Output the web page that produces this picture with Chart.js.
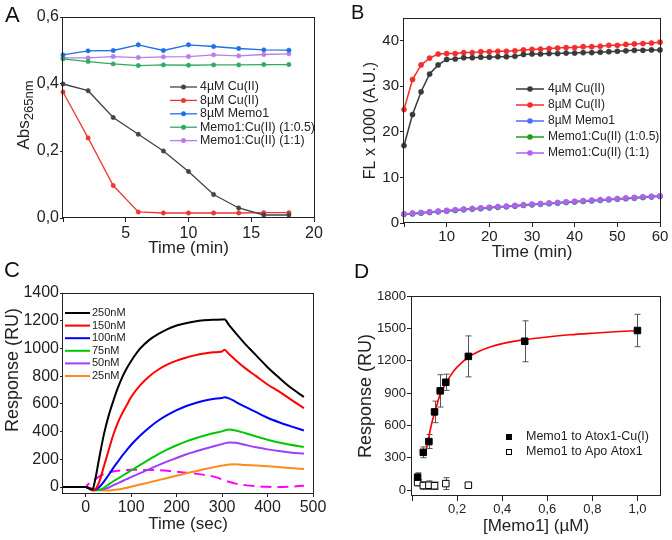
<!DOCTYPE html>
<html>
<head>
<meta charset="utf-8">
<script src="https://cdn.jsdelivr.net/npm/chart.js@4.4.1/dist/chart.umd.min.js"></script>
<style>
  body { margin: 0; background: #fff; }
  #wrap { position: relative; width: 672px; height: 540px; font-family: "Liberation Sans", Arial, sans-serif; color: #111; }
  canvas { position: absolute; }
  .letter { position: absolute; line-height: 1; }
  .vtitle { position: absolute; transform: translate(-50%, -50%) rotate(-90deg); white-space: nowrap; color: #222; }
  #absTitle { left: 25px; top: 115px; font-size: 17px; }
  #absTitle sub { font-size: 13px; }
  #respTitleC { left: 12px; top: 370px; font-size: 18px; }
</style>
</head>
<body>
<div id="wrap">
  <canvas id="chartA" width="336" height="270" style="left:0;top:0"></canvas>
  <canvas id="chartB" width="336" height="270" style="left:336px;top:0"></canvas>
  <canvas id="chartC" width="336" height="270" style="left:0;top:270px"></canvas>
  <canvas id="chartD" width="336" height="270" style="left:336px;top:270px"></canvas>
  <div class="letter" style="left:5px;top:4px;font-size:22px">A</div>
  <div class="letter" style="left:351px;top:2px;font-size:20px">B</div>
  <div class="letter" style="left:4px;top:259px;font-size:22px">C</div>
  <div class="letter" style="left:354px;top:260px;font-size:21px">D</div>
  <div class="vtitle" id="absTitle">Abs<sub>265nm</sub></div>
  <div class="vtitle" id="respTitleC">Response (RU)</div>
</div>
<script>
// ---- panel A: absorbance vs time ----
const timeA = [0, 2, 4, 6, 8, 10, 12, 14, 16, 18];
const cu4A  = [0.400, 0.380, 0.300, 0.250, 0.200, 0.139, 0.070, 0.030, 0.009, 0.009];
const cu8A  = [0.376, 0.239, 0.097, 0.018, 0.015, 0.015, 0.015, 0.015, 0.016, 0.016];
const memoA = [0.487, 0.499, 0.500, 0.517, 0.500, 0.517, 0.512, 0.506, 0.502, 0.501];
const halfA = [0.475, 0.467, 0.460, 0.455, 0.457, 0.456, 0.457, 0.457, 0.458, 0.458];
const oneA  = [0.478, 0.478, 0.482, 0.479, 0.481, 0.482, 0.487, 0.484, 0.488, 0.490];
const ticksAx = [0, 5, 10, 15, 20];
const ticksAy = [0, 0.2, 0.4, 0.6];

// ---- panel B: fluorescence vs time ----
const timeB = [0, 2, 4, 6, 8, 10, 12, 14, 16, 18, 20, 22, 24, 26, 28, 30,
               32, 34, 36, 38, 40, 42, 44, 46, 48, 50, 52, 54, 56, 58, 60];
const cu4B  = [17.0, 23.8, 28.8, 32.7, 34.7, 35.9, 36.0, 36.3, 36.3, 36.4, 36.4, 36.5, 36.5, 36.6, 37.0, 37.1,
               37.1, 37.2, 37.2, 37.3, 37.3, 37.4, 37.4, 37.5, 37.6, 37.7, 37.8, 37.9, 37.9, 38.0, 38.0];
const cu8B  = [24.9, 31.5, 34.7, 36.2, 37.1, 37.2, 37.2, 37.4, 37.4, 37.6, 37.6, 37.7, 37.7, 37.8, 38.0, 38.1,
               38.2, 38.3, 38.4, 38.5, 38.5, 38.7, 38.7, 38.8, 39.0, 39.0, 39.2, 39.3, 39.4, 39.5, 39.7];
const memoB = [1.9, 2.0, 2.15, 2.3, 2.45, 2.6, 2.75, 2.9, 3.05, 3.15, 3.3, 3.45, 3.55, 3.7, 3.85, 4.0,
               4.1, 4.25, 4.35, 4.5, 4.6, 4.75, 4.85, 4.95, 5.1, 5.2, 5.35, 5.45, 5.6, 5.7, 5.8];
const halfB = [1.95, 2.1, 2.25, 2.4, 2.55, 2.7, 2.85, 3.0, 3.1, 3.25, 3.4, 3.5, 3.65, 3.8, 3.95, 4.05,
               4.2, 4.3, 4.45, 4.55, 4.7, 4.8, 4.95, 5.05, 5.15, 5.3, 5.4, 5.55, 5.65, 5.8, 5.9];
const oneB  = [2.0, 2.15, 2.3, 2.45, 2.6, 2.75, 2.9, 3.05, 3.2, 3.3, 3.45, 3.6, 3.7, 3.85, 4.0, 4.15,
               4.25, 4.4, 4.5, 4.65, 4.75, 4.9, 5.0, 5.1, 5.25, 5.35, 5.5, 5.6, 5.75, 5.85, 5.95];
const ticksBx = [0, 10, 20, 30, 40, 50, 60];
const ticksBy = [0, 10, 20, 30, 40];

// ---- panel C: SPR sensorgrams ----
const timeC = [-50, 0, 5, 10, 15, 20, 30, 40, 50, 60, 70, 80, 90, 100, 120, 140, 160,
               180, 200, 220, 240, 260, 280, 300, 305, 315, 330, 350, 375, 400, 425, 450, 480];
const c250 = [0, 0, -5, -15, -15, 40, 215, 380, 510, 615, 710, 790, 855, 910, 1000, 1062, 1105,
              1140, 1165, 1182, 1195, 1203, 1207, 1208, 1210, 1170, 1110, 1035, 950, 865, 790, 720, 650];
const c150 = [0, 0, -5, -15, -25, -20, 40, 150, 260, 370, 460, 530, 590, 650, 735, 800, 848,
              885, 912, 933, 950, 963, 972, 978, 990, 960, 915, 860, 800, 740, 690, 635, 570];
const c100 = [0, 0, -5, -10, -20, -20, 0, 40, 85, 135, 180, 225, 265, 305, 372, 430, 480,
              520, 555, 583, 605, 622, 635, 643, 648, 640, 615, 580, 540, 500, 468, 440, 408];
const c75  = [0, 0, -5, -10, -20, -25, -20, -5, 18, 40, 60, 80, 100, 120, 160, 200, 238,
              272, 302, 328, 350, 370, 388, 402, 408, 415, 408, 390, 365, 342, 322, 305, 290];
const c50  = [0, 0, -5, -10, -15, -20, -20, -15, -5, 12, 27, 42, 57, 72, 100, 130, 158,
              185, 210, 235, 255, 275, 293, 310, 315, 322, 320, 305, 287, 272, 260, 250, 240];
const c25  = [0, 0, -5, -10, -15, -18, -22, -25, -25, -22, -18, -12, -5, 2, 18, 34, 50,
              66, 82, 98, 113, 128, 142, 155, 158, 163, 164, 160, 155, 150, 144, 138, 130];
const cRef = [0, 0, 20, 30, 40, 55, 77, 95, 105, 112, 117, 120, 123, 125, 124, 124, 122,
              117, 110, 104, 97, 88, 77, 55, 48, 38, 25, 14, 6, 2, 0, 3, 10];
const ticksCx = [0, 100, 200, 300, 400, 500];
const ticksCy = [0, 200, 400, 600, 800, 1000, 1200, 1400];

// ---- panel D: binding isotherm ----
const concD    = [0.025, 0.05, 0.075, 0.1, 0.125, 0.15, 0.25, 0.5, 1.0];
const respCuD  = [120, 350, 450, 725, 920, 1000, 1240, 1380, 1480];
const errCuD   = [40, 50, 65, 100, 150, 75, 190, 190, 150];
const concApoD = [0.025, 0.05, 0.075, 0.1, 0.15, 0.25];
const respApoD = [70, 42, 45, 40, 60, 45];
const errApoD  = [30, 35, 40, 35, 55, 20];
const fitXD = [0.062, 0.07, 0.08, 0.09, 0.1, 0.11, 0.125, 0.15, 0.175, 0.2, 0.25, 0.3, 0.35, 0.4, 0.5, 0.6, 0.7, 0.8, 0.9, 1.0];
const fitYD = [360, 440, 550, 640, 715, 785, 890, 985, 1075, 1140, 1232, 1290, 1330, 1358, 1395, 1420, 1440, 1455, 1468, 1478];
const ticksDx = [0, 0.2, 0.4, 0.6, 0.8, 1.0];
const ticksDy = [0, 300, 600, 900, 1200, 1500, 1800];

const FONT = "'Liberation Sans', Arial, sans-serif";
Chart.defaults.font.family = FONT;
Chart.defaults.color = '#222';

const xy = (xs, ys) => xs.map((x, i) => ({x: x, y: ys[i]}));
const hideZero = v => v === 0 ? '' : String(v);
const comma = v => v.toFixed(1).replace('.', ',');
const commaNoZero = v => v === 0 ? '' : comma(v);

// box round the plot area
const frame = {
  id: 'frame',
  afterDatasetsDraw(chart) {
    const a = chart.chartArea, ctx = chart.ctx;
    ctx.save();
    ctx.strokeStyle = '#222';
    ctx.lineWidth = 1;
    ctx.strokeRect(Math.round(a.left) - 0.5, Math.round(a.top) + 0.5,
                   Math.round(a.right - a.left) + 1, Math.round(a.bottom - a.top) - 1);
    ctx.restore();
  }
};

// vertical error bars from dataset.errors
const errorBars = {
  id: 'errorBars',
  beforeDatasetsDraw(chart) {
    const ctx = chart.ctx, ys = chart.scales.y;
    chart.data.datasets.forEach((ds, i) => {
      if (!ds.errors) return;
      const meta = chart.getDatasetMeta(i);
      ctx.save();
      ctx.strokeStyle = '#555';
      ctx.lineWidth = 1;
      meta.data.forEach((pt, j) => {
        const v = ds.data[j].y, e = ds.errors[j];
        const t = ys.getPixelForValue(v + e), b = ys.getPixelForValue(v - e);
        const x = Math.round(pt.x) + 0.5;
        ctx.beginPath();
        ctx.moveTo(x, t); ctx.lineTo(x, b);
        ctx.moveTo(x - 3, t); ctx.lineTo(x + 3, t);
        ctx.moveTo(x - 3, b); ctx.lineTo(x + 3, b);
        ctx.stroke();
      });
      ctx.restore();
    });
  }
};

// legend drawn inside the plot, one row per labelled dataset
const boxLegend = {
  id: 'boxLegend',
  afterDraw(chart, args, o) {
    if (!o || !o.show) return;
    const ctx = chart.ctx;
    ctx.save();
    ctx.font = o.size + 'px ' + FONT;
    ctx.textBaseline = 'middle';
    let row = 0;
    chart.data.datasets.forEach(ds => {
      if (!ds.label) return;
      const y = o.y + row * o.rowH;
      row++;
      if (o.lineLen) {
        ctx.strokeStyle = ds.borderColor;
        ctx.lineWidth = o.lineW || ds.borderWidth;
        ctx.beginPath();
        ctx.moveTo(o.x, y); ctx.lineTo(o.x + o.lineLen, y);
        ctx.stroke();
      }
      const mx = o.x + (o.lineLen || 0) / 2;
      if (o.marker === 'circle') {
        ctx.fillStyle = ds.pointBackgroundColor;
        ctx.beginPath(); ctx.arc(mx, y, o.markR, 0, Math.PI * 2); ctx.fill();
      } else if (o.marker === 'rect') {
        const s = o.markR;
        ctx.fillStyle = ds.pointBackgroundColor;
        ctx.strokeStyle = ds.pointBorderColor;
        ctx.lineWidth = 1;
        ctx.fillRect(mx - s, y - s, 2 * s, 2 * s);
        ctx.strokeRect(mx - s + 0.5, y - s + 0.5, 2 * s - 1, 2 * s - 1);
      }
      ctx.fillStyle = '#222';
      ctx.fillText(ds.label, o.textX, y);
    });
    ctx.restore();
  }
};
Chart.register(frame, errorBars, boxLegend);

function axis(o) {
  return {
    type: 'linear', min: o.min, max: o.max,
    border: {display: false},
    grid: {display: true, drawOnChartArea: false, drawTicks: true, tickLength: o.tick || 4, color: '#222'},
    ticks: {padding: o.pad || 1, autoSkip: false, maxRotation: 0,
            font: {size: o.fs}, color: '#222', callback: o.fmt},
    title: o.title ? {display: true, text: o.title, font: {size: o.tfs}, color: '#222', padding: o.tpad}
                   : {display: false},
    afterBuildTicks: s => { s.ticks = o.ticks.map(v => ({value: v})); },
    afterFit: s => { if (o.w) s.width = o.w; if (o.h) s.height = o.h; }
  };
}

function base(pad, scales, legend) {
  return {
    responsive: false, animation: false, events: [],
    layout: {padding: pad},
    plugins: {legend: {display: false}, tooltip: {enabled: false}, boxLegend: legend},
    scales: scales
  };
}

function lineSet(label, xs, ys, color, extra) {
  return Object.assign({
    label: label, data: xy(xs, ys), showLine: true, clip: false,
    borderColor: color, backgroundColor: color, pointBackgroundColor: color, pointBorderColor: color,
    borderWidth: 1.3, pointRadius: 2.2, pointBorderWidth: 0.5, tension: 0
  }, extra || {});
}

// A
new Chart(document.getElementById('chartA'), {
  type: 'scatter',
  data: {datasets: [
    lineSet('4\u00b5M Cu(II)', timeA, cu4A, '#444444'),
    lineSet('8\u00b5M Cu(II)', timeA, cu8A, '#f03535'),
    lineSet('8\u00b5M Memo1', timeA, memoA, '#1f6fe6'),
    lineSet('Memo1:Cu(II) (1:0.5)', timeA, halfA, '#2eaa62'),
    lineSet('Memo1:Cu(II) (1:1)', timeA, oneA, '#b77de8')
  ]},
  options: base({top: 17, right: 22, left: 0, bottom: 0}, {
    x: axis({min: 0, max: 20, ticks: ticksAx, fs: 16, fmt: hideZero, h: 52, pad: 2,
             title: 'Time (min)', tfs: 17, tpad: {top: 0, bottom: 11}}),
    y: axis({min: 0, max: 0.6, ticks: ticksAy, fs: 16, fmt: comma, w: 63, tick: 3})
  }, {show: true, x: 170, y: 87, rowH: 13.4, lineLen: 27, textX: 200, size: 12.4, marker: 'circle', markR: 2.5})
});

// B
new Chart(document.getElementById('chartB'), {
  type: 'scatter',
  data: {datasets: [
    lineSet('4\u00b5M Cu(II)', timeB, cu4B, '#3a3a3a', {borderWidth: 1.5, pointRadius: 2.6, order: 1}),
    lineSet('8\u00b5M Cu(II)', timeB, cu8B, '#f52c2c', {borderWidth: 1.5, pointRadius: 2.6, order: 1}),
    lineSet('8\u00b5M Memo1', timeB, memoB, '#4d6ff0', {borderWidth: 1.5, pointRadius: 2.6, order: 3}),
    lineSet('Memo1:Cu(II) (1:0.5)', timeB, halfB, '#1e9e1e', {borderWidth: 1.5, pointRadius: 2.6, order: 2}),
    lineSet('Memo1:Cu(II) (1:1)', timeB, oneB, '#b25ff2', {borderWidth: 1.5, pointRadius: 2.6, order: 0})
  ]},
  options: base({top: 18, right: 12, left: 0, bottom: 0}, {
    x: axis({min: 0, max: 60, ticks: ticksBx, fs: 15, fmt: hideZero, h: 47, pad: 1,
             title: 'Time (min)', tfs: 17, tpad: {top: 0, bottom: 7}}),
    y: axis({min: 0, max: 45, ticks: ticksBy, fs: 15, w: 68, tick: 4,
             title: 'FL x 1000 (A.U.)', tfs: 16, tpad: {top: 25, bottom: 0}})
  }, {show: true, x: 180, y: 89, rowH: 16, lineLen: 28, textX: 212, size: 12, marker: 'circle', markR: 2.8})
});

// C
const curve = (label, ys, color, extra) => Object.assign({
  label: label, data: xy(timeC, ys), showLine: true, borderColor: color, backgroundColor: color,
  borderWidth: 2, pointRadius: 0, cubicInterpolationMode: 'monotone'
}, extra || {});
new Chart(document.getElementById('chartC'), {
  type: 'scatter',
  data: {datasets: [
    curve('250nM', c250, '#000000'),
    curve('150nM', c150, '#ff0000'),
    curve('100nM', c100, '#0000ff'),
    curve('75nM', c75, '#00c800'),
    curve('50nM', c50, '#9a40ff'),
    curve('25nM', c25, '#ff8a1c'),
    curve('', cRef, '#ff00ff', {borderDash: [11, 6]})
  ]},
  options: base({top: 23, right: 23, left: 0, bottom: 0}, {
    x: axis({min: -50, max: 500, ticks: ticksCx, fs: 16, h: 46, tick: 3, pad: 0,
             title: 'Time (sec)', tfs: 17, tpad: {top: 0, bottom: 5}}),
    y: axis({min: -50, max: 1400, ticks: ticksCy, fs: 16, w: 63, tick: 3, pad: 0})
  }, {show: true, x: 65, y: 43, rowH: 12.6, lineLen: 25, lineW: 2, textX: 92, size: 11, marker: 'none'})
});

// D
new Chart(document.getElementById('chartD'), {
  type: 'scatter',
  data: {datasets: [
    {label: 'Memo1 to Atox1-Cu(I)', data: xy(concD, respCuD), errors: errCuD, order: 0,
     pointStyle: 'rect', pointRadius: 4.6, pointBackgroundColor: '#000', pointBorderColor: '#000', pointBorderWidth: 1},
    {label: 'Memo1 to Apo Atox1', data: xy(concApoD, respApoD), errors: errApoD, order: 1,
     pointStyle: 'rect', pointRadius: 4.6, pointBackgroundColor: '#fff', pointBorderColor: '#000', pointBorderWidth: 1},
    {label: '', data: xy(fitXD, fitYD), showLine: true, order: 2, borderColor: '#ff0000', borderWidth: 1.6,
     pointRadius: 0, cubicInterpolationMode: 'monotone'}
  ]},
  options: base({top: 26, right: 12, left: 0, bottom: 0}, {
    x: axis({min: 0, max: 1.1, ticks: ticksDx, fs: 13, fmt: commaNoZero, h: 44, tick: 5, pad: 1,
             title: '[Memo1] (\u00b5M)', tfs: 17, tpad: {top: 0, bottom: 3}}),
    y: axis({min: -55, max: 1800, ticks: ticksDy, fs: 13, w: 76, tick: 5, pad: 1,
             title: 'Response (RU)', tfs: 18, tpad: {top: 19, bottom: 0}})
  }, {show: true, x: 173, y: 167, rowH: 15, lineLen: 0, textX: 190, size: 12.5, marker: 'rect', markR: 3})
});
</script>
</body>
</html>
